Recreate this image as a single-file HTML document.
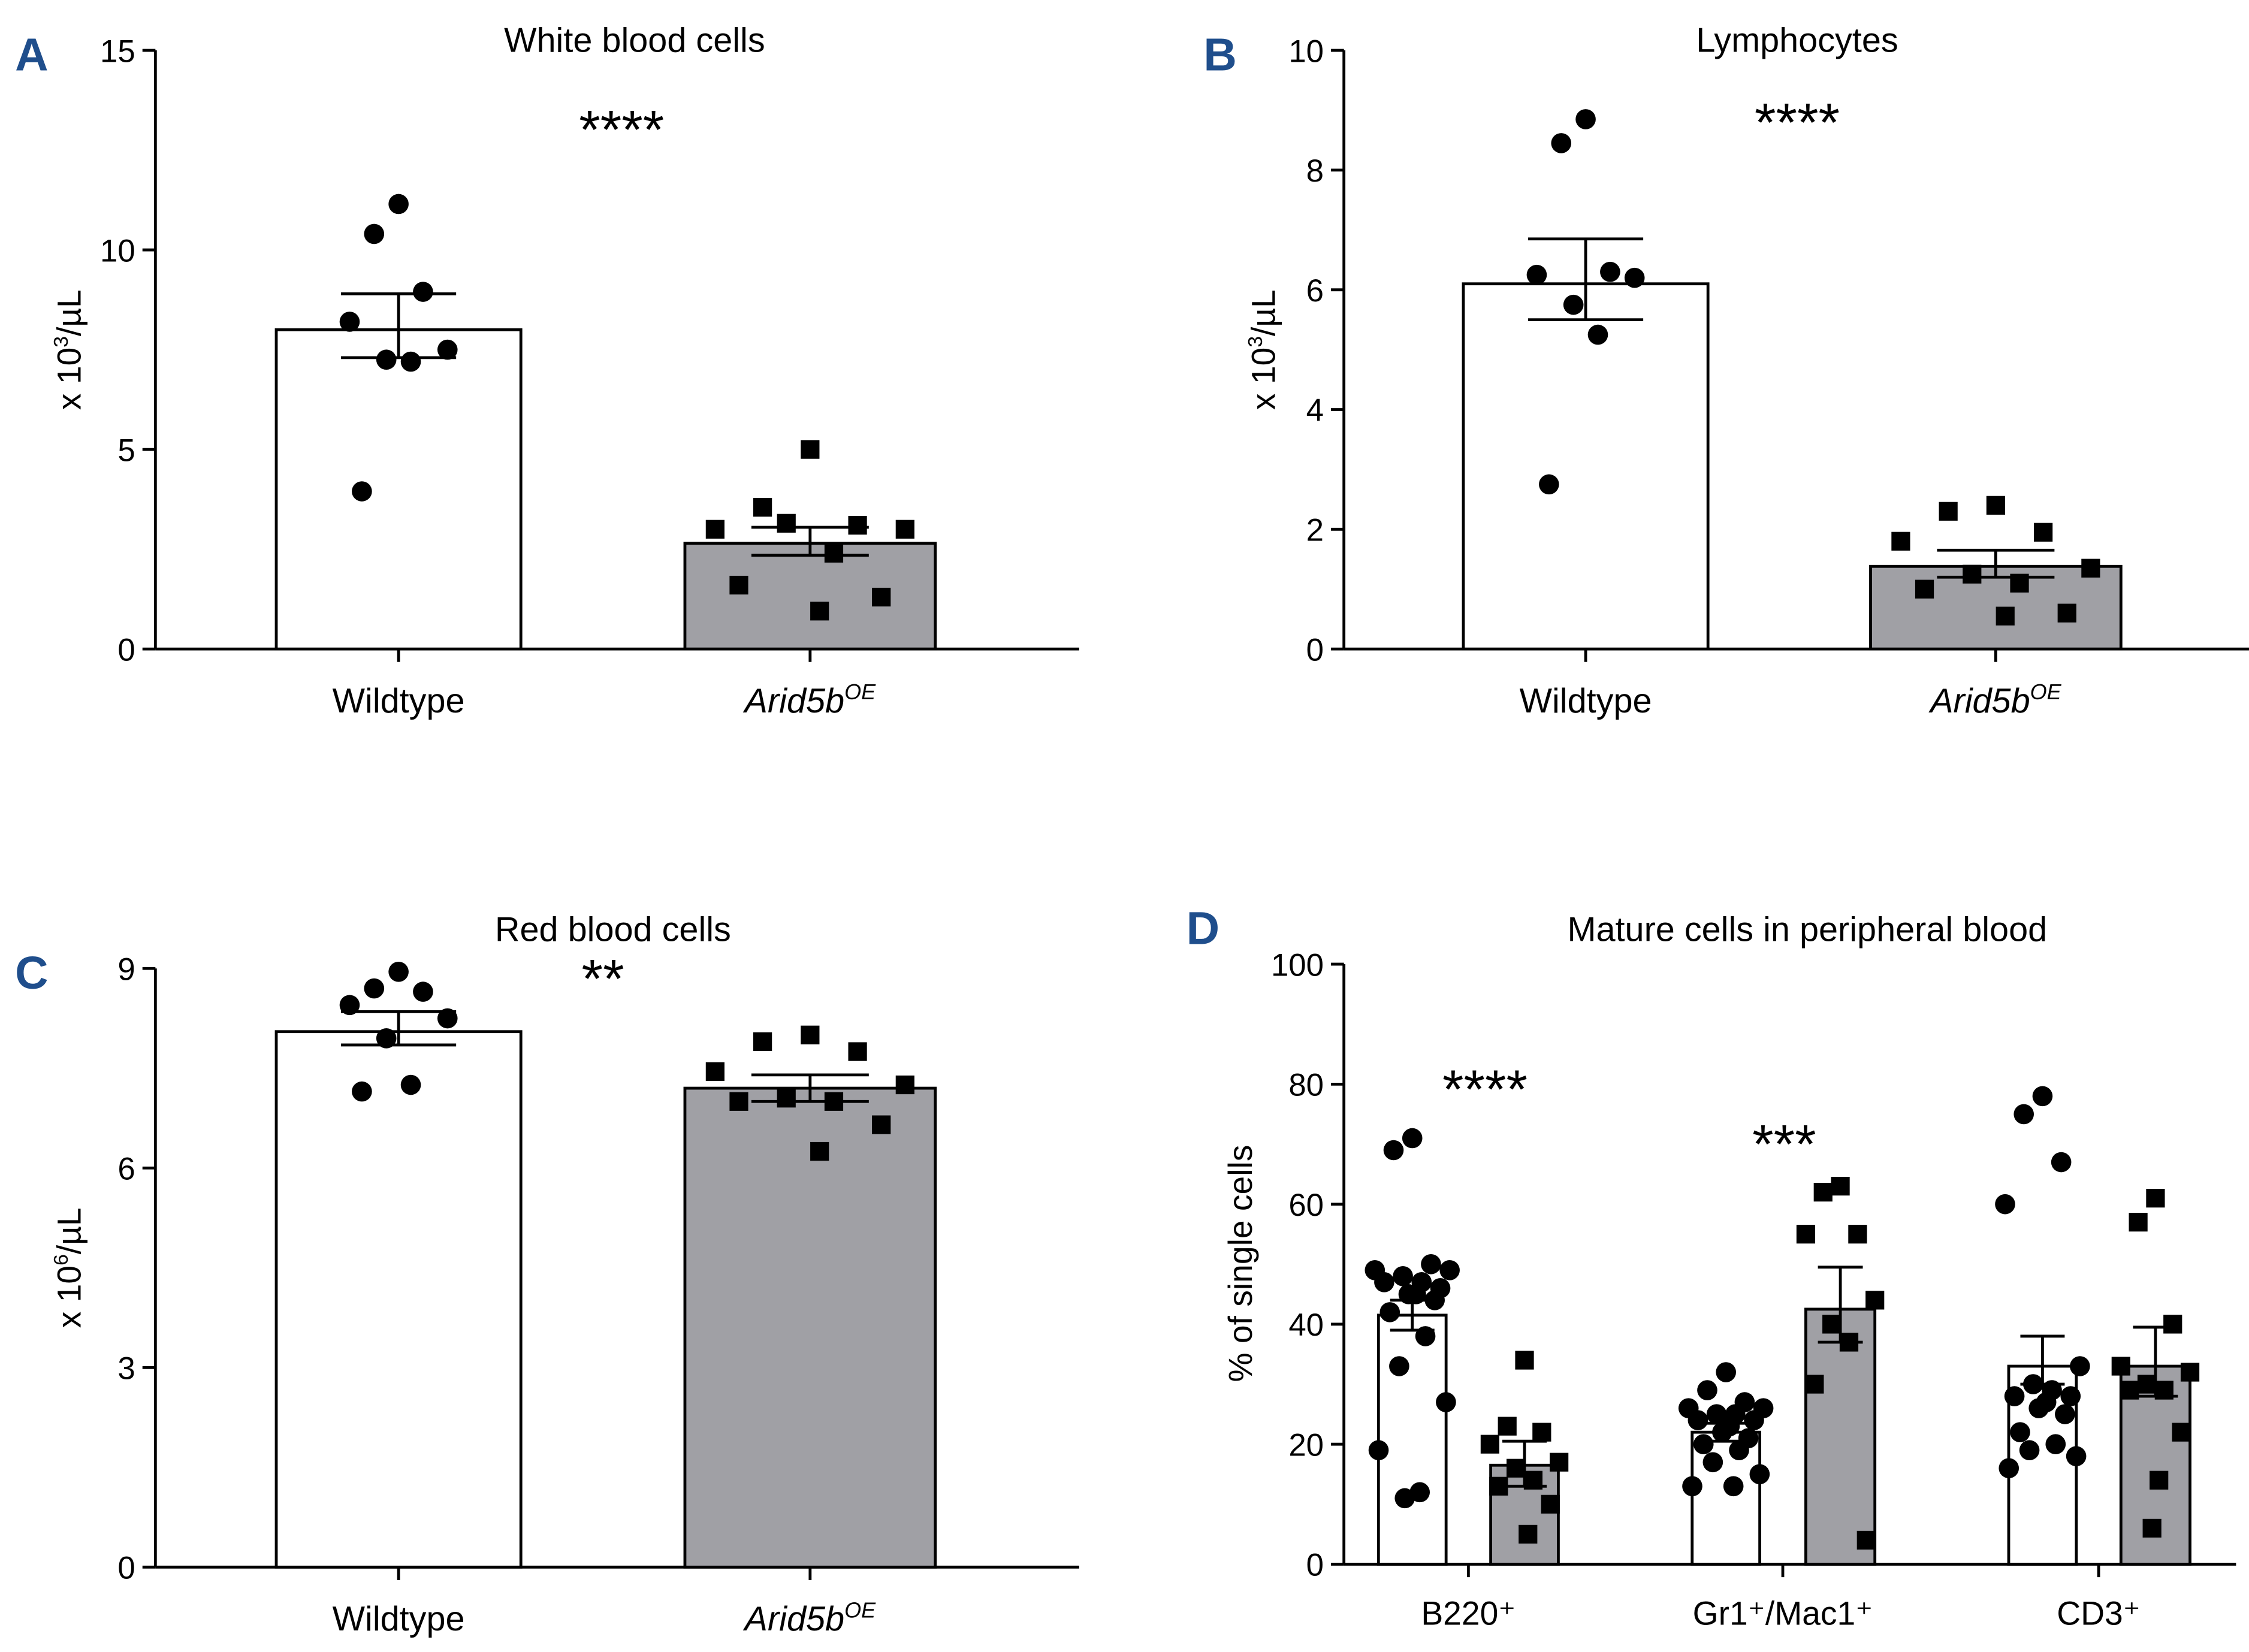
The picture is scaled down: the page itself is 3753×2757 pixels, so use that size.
<!DOCTYPE html>
<html><head><meta charset="utf-8"><style>
html,body{margin:0;padding:0;background:#fff;}
svg{display:block;font-family:"Liberation Sans",sans-serif;}
</style></head><body>
<svg id="c" width="3753" height="2757" viewBox="0 0 1563 1148" preserveAspectRatio="none" xmlns="http://www.w3.org/2000/svg"></svg>
<script>
// ---- data ----
const panelATitle="White blood cells";
const aMeans=[8.0,2.65];
const aErr=[[7.3,8.9],[2.35,3.05]];
const aWT=[11.15,10.4,8.95,8.2,7.5,7.25,7.2,3.95];
const aKO=[5.0,3.55,3.1,3.0,3.0,3.15,2.4,1.6,1.3,0.95];
const aTicks=[0,5,10,15];
const bMeans=[6.1,1.38];
const bErr=[[5.5,6.85],[1.2,1.65]];
const bWT=[8.85,8.45,6.3,6.25,6.2,5.75,5.25,2.75];
const bKO=[2.4,2.3,1.95,1.8,1.35,1.25,1.1,1.0,0.6,0.55];
const bTicks=[0,2,4,6,8,10];
const cMeans=[8.05,7.2];
const cErr=[[7.85,8.35],[7.0,7.4]];
const cWT=[8.95,8.7,8.65,8.45,8.25,7.95,7.25,7.15];
const cKO=[8.0,7.9,7.75,7.45,7.25,7.05,7.0,7.0,6.65,6.25];
const cTicks=[0,3,6,9];
const dCategories=["B220⁺","Gr1⁺/Mac1⁺","CD3⁺"];
const dMeans=[[41.5,16.5],[22,42.5],[33,33]];
const dErr=[[[39,44],[13,20.5]],[[20.5,23.5],[37,49.5]],[[30,38],[28,39.5]]];
const dB220WT=[71,69,50,49,49,48,47,47,46,45,45,44,42,38,33,27,19,12,11];
const dB220KO=[34,23,22,20,17,16,14,13,10,5];
const dGrWT=[32,29,27,26,26,25,25,24,24,23,22,21,20,19,17,15,13,13];
const dGrKO=[63,62,55,55,44,40,37,30,4];
const dCD3WT=[78,75,67,60,33,30,29,28,28,27,26,25,22,20,19,18,16];
const dCD3KO=[61,57,40,33,32,30,29,29,22,14,6];
const dTicks=[0,20,40,60,80,100];

const svg=document.getElementById('c');
const NS="http://www.w3.org/2000/svg";
function el(tag,attrs,parent,text){const e=document.createElementNS(NS,tag);for(const k in attrs)e.setAttribute(k,attrs[k]);if(text!==undefined)e.textContent=text;(parent||svg).appendChild(e);return e;}
function grp(name){const g=el('g',{});return g;}

function axisY(g,x,y0,y1,vmax,ticks){
  const sc=v=>y0-(y0-y1)*v/vmax;
  el('line',{x1:x,y1:y0,x2:x,y2:y1,stroke:'#000','stroke-width':2},g);
  ticks.forEach(t=>{const y=sc(t);el('line',{x1:x-9,y1:y,x2:x,y2:y,stroke:'#000','stroke-width':2},g);
    const tx=el('text',{x:x-14,y:y+8,'text-anchor':'end','font-size':22},g,t);});
  return sc;
}
const JIT=[0,-0.5,0.5,-1,1,-0.25,0.25,-0.75,0.75,0.1,-0.1,0.6,-0.6,0.35,-0.35,0.9,-0.9,0.2,-0.2];
function points(g,vals,cx,sc,shape,spread){
  vals.forEach((v,i)=>{
    const x=cx+JIT[i%JIT.length]*spread, y=sc(v);
    let m;
    if(shape==='c') m=el('circle',{cx:x,cy:y,r:7,fill:'#000'},g);
    else m=el('rect',{x:x-6.5,y:y-6.5,width:13,height:13,fill:'#000'},g);
    
  });
}
function bar(g,x0,x1,mean,err,sc,fill,y0){
  const b=el('rect',{x:x0,y:sc(mean),width:x1-x0,height:y0-sc(mean),fill:fill,stroke:'#000','stroke-width':2},g);
  
  const cx=(x0+x1)/2,w=Math.min(43,(x1-x0)*0.2+6);
  const e=el('path',{d:`M${cx},${sc(err[0])}V${sc(err[1])}M${cx-w},${sc(err[0])}H${cx+w}M${cx-w},${sc(err[1])}H${cx+w}`,stroke:'#000','stroke-width':2,fill:'none'},g);
  
}
function label(g,x,y,txt,size,name,opts){const t=el('text',Object.assign({x:x,y:y,'text-anchor':'middle','font-size':size},opts||{}),g,txt);return t;}
function xlabels(g,y,xs){
  label(g,xs[0],y,'Wildtype',24,'x-label-wildtype');
  const t2=el('text',{x:xs[1],y:y,'text-anchor':'middle','font-size':24,'font-style':'italic'},g);
  
  t2.appendChild(document.createTextNode('Arid5b'));
  el('tspan',{'font-size':15,dy:-9},t2,'OE');
}
function twoBar(name,letter,ax,y0,y1,vmax,ticks,means,err,wt,ko,title,titleX,titleY,stars,starX,starY,ytitle,ytx,bars){
  const g=grp(name);
  label(g,ax-86,y1+14,letter,32,'panel-letter',{fill:'#1f4e8c','font-weight':'bold'});
  label(g,titleX,titleY,title,24,'chart-title');
  const sc=axisY(g,ax,y0,y1,vmax,ticks);
  el('line',{x1:ax,y1:y0,x2:ax+642,y2:y0,stroke:'#000','stroke-width':2},g);
  bar(g,bars[0],bars[1],means[0],err[0],sc,'#fff',y0);
  bar(g,bars[2],bars[3],means[1],err[1],sc,'#a0a0a5',y0);
  const c1=(bars[0]+bars[1])/2,c2=(bars[2]+bars[3])/2;
  [c1,c2].forEach(c=>el('line',{x1:c,y1:y0,x2:c,y2:y0+9,stroke:'#000','stroke-width':2},g));
  points(g,wt,c1,sc,'c',34);
  points(g,ko,c2,sc,'s',66);
  label(g,starX,starY,stars,38,'significance-stars');
  const t=label(g,ytx,(y0+y1)/2,'',23,'y-axis-title',{transform:`rotate(-90 ${ytx} ${(y0+y1)/2})`});
  t.appendChild(document.createTextNode(ytitle[0]));el('tspan',{'font-size':14,dy:-9},t,ytitle[1]);el('tspan',{dy:9},t,'/µL');
  xlabels(g,y0+44,[c1,c2]);
}
twoBar('panel-a','A',108,451,35,15,aTicks,aMeans,aErr,aWT,aKO,panelATitle,441,36,'****',432,103,['x 10','3'],56,[192,362,476,650]);
twoBar('panel-b','B',934,451,35,10,bTicks,bMeans,bErr,bWT,bKO,'Lymphocytes',1249,36,'****',1249,98,['x 10','3'],886,[1017,1187,1300,1474]);
twoBar('panel-c','C',108,1089,673,9,cTicks,cMeans,cErr,cWT,cKO,'Red blood cells',426,654,'**',419,693,['x 10','6'],56,[192,362,476,650]);

// Panel D
(function(){
  const g=grp('panel-d');
  const ax=934,y0=1087,y1=670;
  label(g,ax-98,y1-14,'D',32,'panel-letter',{fill:'#1f4e8c','font-weight':'bold'});
  label(g,1256,654,'Mature cells in peripheral blood',24,'chart-title');
  const sc=axisY(g,ax,y0,y1,100,dTicks);
  el('line',{x1:ax,y1:y0,x2:ax+620,y2:y0,stroke:'#000','stroke-width':2},g);
  const groups=[[958,1005,1036,1083],[1176,1223,1255,1303],[1396,1443,1474,1522]];
  const wts=[dB220WT,dGrWT,dCD3WT],kos=[dB220KO,dGrKO,dCD3KO];
  groups.forEach((b,i)=>{
    bar(g,b[0],b[1],dMeans[i][0],dErr[i][0],sc,'#fff',y0);
    bar(g,b[2],b[3],dMeans[i][1],dErr[i][1],sc,'#a0a0a5',y0);
    const c1=(b[0]+b[1])/2,c2=(b[2]+b[3])/2;
    points(g,wts[i],c1,sc,'c',26);
    points(g,kos[i],c2,sc,'s',24);
    const m=(b[1]+b[2])/2;
    el('line',{x1:m,y1:y0,x2:m,y2:y0+9,stroke:'#000','stroke-width':2},g);
    const t=el('text',{x:m,y:y0+42,'text-anchor':'middle','font-size':23},g,dCategories[i]);
    
  });
  label(g,1032,770,'****',38,'significance-stars');
  label(g,1240,808,'***',38,'significance-stars');
  label(g,870,878,'% of single cells',23,'y-axis-title',{transform:'rotate(-90 870 878)'});
})();
</script>
</body></html>
